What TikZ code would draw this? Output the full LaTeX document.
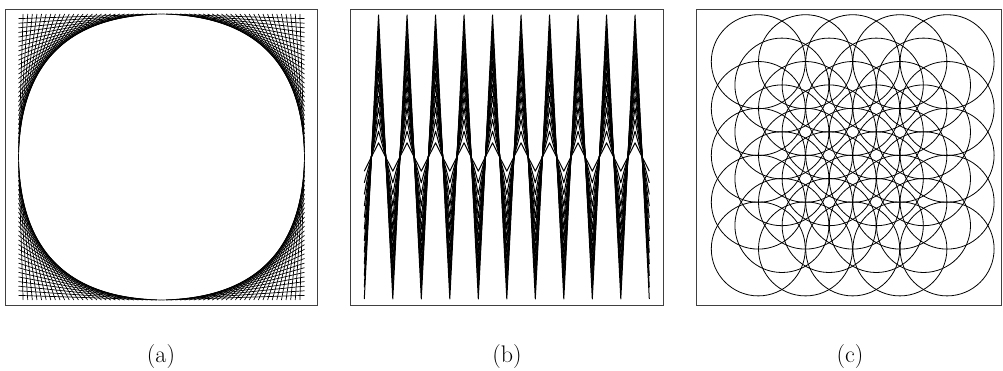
\documentclass[tikz,border=0pt]{standalone}
\tikzset{
  frame/.style={draw=black!75, line width=0.8pt},
  strand/.style={draw=black, line width=0.7pt},
  wave/.style={draw=black, line width=1pt, line join=round},
  ring/.style={draw=black, line width=0.8pt},
  caption/.style={font=\fontsize{24}{28}\selectfont, anchor=base, inner sep=0pt},
}
\begin{document}
\begin{tikzpicture}[x=1pt,y=-1pt]
\useasboundingbox (0,0) rectangle (1003,371);
% frames
\draw[frame] (5,9) rectangle (317,305);
\draw[frame] (350,9) rectangle (663,305);
\draw[frame] (696,9) rectangle (1001.5,305);
% (a) string art in the four corners
\def\aL{18.5}\def\aT{14}\def\aR{304.5}\def\aB{300}
\pgfmathsetmacro\ad{143/31}
\foreach \k in {1,...,31}{
  \pgfmathsetmacro\u{\k*\ad}
  \pgfmathsetmacro\v{(32-\k)*\ad}
  \draw[strand] (\aL+\u,\aT) -- (\aL,\aT+\v);
  \draw[strand] (\aR-\u,\aT) -- (\aR,\aT+\v);
  \draw[strand] (\aL+\u,\aB) -- (\aL,\aB-\v);
  \draw[strand] (\aR-\u,\aB) -- (\aR,\aB-\v);
}
% (b) nested triangle waves
\def\bx{364.3}\def\bc{157}\def\bp{28.5}
\foreach \k in {0,...,11}{
  \pgfmathsetmacro\A{14.2+\k*11.618}
  \draw[wave] (\bx,\bc+\A)
    \foreach \j in {1,...,10}{
      -- (\bx+\bp*\j-0.5*\bp,\bc-\A) -- (\bx+\bp*\j,\bc+\A)
    };
}
% (c) circles on a checkerboard lattice
\foreach \i in {0,...,8}{
  \foreach \j in {0,...,8}{
    \pgfmathtruncatemacro\parity{mod(\i+\j,2)}
    \ifnum\parity=0
      \draw[ring] (758.3+23.6*\i,61.7+23.4*\j) circle[radius=47pt];
    \fi
  }
}
% captions
\node[caption] (la) at (161,362) {(a)};
\node[caption] (lb) at (507,362) {(b)};
\node[caption] (lc) at (850,362) {(c)};
\end{tikzpicture}
\end{document}
